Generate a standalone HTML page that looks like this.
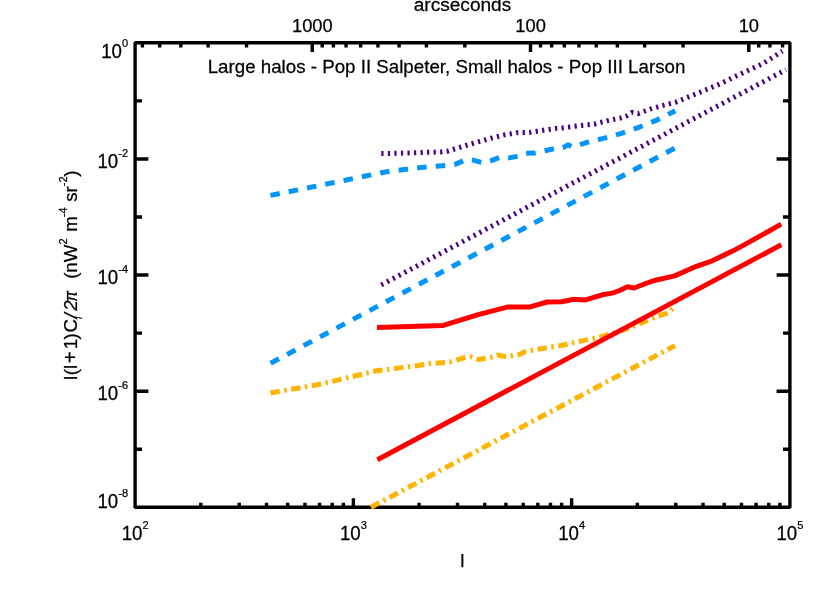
<!DOCTYPE html>
<html><head><meta charset="utf-8"><title>power spectrum</title>
<style>html,body{margin:0;padding:0;background:#fff;overflow:hidden;}svg{display:block;}text{font-family:"Liberation Sans", sans-serif;fill:#000;stroke:#000;stroke-width:0.25px;}</style>
</head><body>
<svg width="830" height="593" viewBox="0 0 830 593">
<rect x="0" y="0" width="830" height="593" fill="#fff"/>
<g stroke="#000" fill="none" stroke-linecap="butt">
<path d="M134.50 507.30H790.50M134.50 42.80H790.50M135.10 42.20V507.90M789.90 42.20V507.90" stroke-width="3.40"/>
<path d="M200.80 507.30V502.70M239.24 507.30V502.70M266.51 507.30V502.70M287.66 507.30V502.70M304.94 507.30V502.70M319.56 507.30V502.70M332.21 507.30V502.70M343.38 507.30V502.70M353.37 507.30V498.20M419.07 507.30V502.70M457.51 507.30V502.70M484.78 507.30V502.70M505.93 507.30V502.70M523.21 507.30V502.70M537.82 507.30V502.70M550.48 507.30V502.70M561.65 507.30V502.70M571.63 507.30V498.20M637.34 507.30V502.70M675.77 507.30V502.70M703.04 507.30V502.70M724.20 507.30V502.70M741.48 507.30V502.70M756.09 507.30V502.70M768.75 507.30V502.70M779.91 507.30V502.70" stroke-width="3.40"/>
<path d="M782.58 42.80V47.40M769.93 42.80V47.40M758.76 42.80V47.40M748.77 42.80V51.90M683.07 42.80V47.40M644.63 42.80V47.40M617.36 42.80V47.40M596.21 42.80V47.40M578.93 42.80V47.40M564.32 42.80V47.40M551.66 42.80V47.40M540.49 42.80V47.40M530.51 42.80V51.90M464.80 42.80V47.40M426.37 42.80V47.40M399.10 42.80V47.40M377.94 42.80V47.40M360.66 42.80V47.40M346.05 42.80V47.40M333.39 42.80V47.40M322.23 42.80V47.40M312.24 42.80V51.90M246.53 42.80V47.40M208.10 42.80V47.40M180.83 42.80V47.40M159.68 42.80V47.40M142.40 42.80V47.40" stroke-width="3.40"/>
<path d="M135.10 100.86H142.00M789.90 100.86H783.00M135.10 158.93H148.40M789.90 158.93H776.60M135.10 216.99H142.00M789.90 216.99H783.00M135.10 275.05H148.40M789.90 275.05H776.60M135.10 333.11H142.00M789.90 333.11H783.00M135.10 391.18H148.40M789.90 391.18H776.60M135.10 449.24H142.00M789.90 449.24H783.00" stroke-width="3.40"/>
</g>
<g fill="none" stroke-width="5.00" stroke-linecap="butt" stroke-linejoin="round">
<polyline points="270.4,393.0 322.3,383.8 375.3,371.0 418.7,365.4 430.0,363.6 449.7,362.1 464.9,357.5 471.0,356.8 478.6,359.5 490.7,357.5 497.5,355.0 505.9,356.6 519.5,354.5 525.6,351.5 546.8,347.7 562.5,345.2 574.6,342.3 598.7,337.5 630.0,327.8 657.1,316.4 668.0,313.0 672.6,308.7" stroke="#FFB400" stroke-dasharray="9.55 4.45 2.5 4.5"/>
<polyline points="370.9,507.3 674.9,345.6" stroke="#FFB400" stroke-dasharray="9.55 4.45 2.5 4.5"/>
<polyline points="270.4,195.4 300.0,189.5 346.4,180.0 385.0,172.0 418.7,167.7 442.5,165.7 454.5,164.6 463.1,160.9 468.0,159.6 472.1,159.9 481.2,162.3 484.0,162.7 490.6,160.9 499.3,157.6 508.7,157.9 518.1,156.3 526.0,153.3 535.4,153.0 544.8,150.8 554.2,148.7 558.0,148.2 563.0,147.7 568.0,144.8 572.5,147.0 585.6,142.8 603.4,138.4 621.4,133.4 638.8,127.3 656.1,120.4 672.0,112.4 675.3,110.7" stroke="#0096FD" stroke-dasharray="9.5 9.17"/>
<polyline points="270.6,363.2 674.7,148.2" stroke="#0096FD" stroke-dasharray="9.5 9.17"/>
<polyline points="381.3,153.6 400.0,153.2 420.0,152.6 440.7,151.9 447.0,151.3 454.5,149.0 472.5,143.5 491.3,138.2 504.3,134.9 516.6,132.8 529.6,132.4 543.4,130.2 555.7,128.4 562.2,127.9 581.7,125.4 594.7,124.0 607.7,120.6 620.0,118.2 626.5,116.0 631.9,112.4 638.1,113.6 651.1,108.8 664.1,105.2 676.4,102.0 688.6,96.8 700.0,92.3 718.7,84.4 735.0,76.6 750.0,69.6 759.3,65.4 765.0,62.2 770.4,58.8 775.8,55.4 782.4,51.1" stroke="#4B0082" stroke-dasharray="2.24 4.30"/>
<polyline points="381.3,284.9 785.9,69.7" stroke="#4B0082" stroke-dasharray="2.24 4.30"/>
<polyline points="377.0,327.4 410.0,326.5 443.3,325.4 478.2,314.6 508.3,306.9 530.0,306.9 547.2,302.0 561.7,301.8 574.0,299.3 585.5,299.9 602.2,294.8 612.3,293.1 619.5,290.5 627.5,286.8 634.0,288.0 647.0,283.0 655.4,280.2 674.7,275.9 696.4,266.3 710.8,261.4 732.5,251.1 744.6,244.6 768.7,231.3 781.2,224.1" stroke="#FF0000"/>
<polyline points="377.4,459.7 781.3,244.8" stroke="#FF0000"/>
</g>
<filter id="noop" filterUnits="userSpaceOnUse" x="0" y="0" width="830" height="593"><feOffset dx="0" dy="0"/></filter>
<g filter="url(#noop)">
<text transform="translate(121.94 57.90) scale(1.0000 1.0450)" font-size="18.70" text-anchor="end">10</text>
<text transform="translate(121.94 46.70) scale(0.9550 0.9200)" font-size="11.60" text-anchor="start">0</text>
<text transform="translate(118.25 167.73) scale(1.0000 1.0450)" font-size="18.70" text-anchor="end">10</text>
<text transform="translate(118.25 156.53) scale(0.9550 0.9200)" font-size="11.60" text-anchor="start">-2</text>
<text transform="translate(118.25 283.85) scale(1.0000 1.0450)" font-size="18.70" text-anchor="end">10</text>
<text transform="translate(118.25 272.65) scale(0.9550 0.9200)" font-size="11.60" text-anchor="start">-4</text>
<text transform="translate(118.25 399.98) scale(1.0000 1.0450)" font-size="18.70" text-anchor="end">10</text>
<text transform="translate(118.25 388.78) scale(0.9550 0.9200)" font-size="11.60" text-anchor="start">-6</text>
<text transform="translate(118.25 507.90) scale(1.0000 1.0450)" font-size="18.70" text-anchor="end">10</text>
<text transform="translate(118.25 496.70) scale(0.9550 0.9200)" font-size="11.60" text-anchor="start">-8</text>
<text transform="translate(142.42 539.70) scale(1.0000 1.0450)" font-size="18.70" text-anchor="end">10</text>
<text transform="translate(142.42 528.50) scale(0.9550 0.9200)" font-size="11.60" text-anchor="start">2</text>
<text transform="translate(360.69 539.70) scale(1.0000 1.0450)" font-size="18.70" text-anchor="end">10</text>
<text transform="translate(360.69 528.50) scale(0.9550 0.9200)" font-size="11.60" text-anchor="start">3</text>
<text transform="translate(578.95 539.70) scale(1.0000 1.0450)" font-size="18.70" text-anchor="end">10</text>
<text transform="translate(578.95 528.50) scale(0.9550 0.9200)" font-size="11.60" text-anchor="start">4</text>
<text transform="translate(797.22 539.70) scale(1.0000 1.0450)" font-size="18.70" text-anchor="end">10</text>
<text transform="translate(797.22 528.50) scale(0.9550 0.9200)" font-size="11.60" text-anchor="start">5</text>
<text transform="translate(312.34 32.10)" font-size="18.30" text-anchor="middle">1000</text>
<text transform="translate(530.61 32.10)" font-size="18.30" text-anchor="middle">100</text>
<text transform="translate(748.87 32.10)" font-size="18.30" text-anchor="middle">10</text>
<text transform="translate(462.50 10.90) scale(1.0200 1.0000)" font-size="18.70" text-anchor="middle">arcseconds</text>
<text transform="translate(462.30 567.00)" font-size="18.70" text-anchor="middle">l</text>
<text transform="translate(207.70 72.80) scale(1.0020 1.0200)" font-size="18.70" text-anchor="start">Large halos - Pop II Salpeter, Small halos - Pop III Larson</text>
<text transform="translate(77.00 380.00) rotate(-90)" font-size="18.70" text-anchor="start">l</text>
<text transform="translate(77.00 375.15) rotate(-90)" font-size="18.70" text-anchor="start">(l</text>
<text transform="translate(77.00 363.26) rotate(-90)" font-size="20.57" text-anchor="start">+</text>
<text transform="translate(77.00 349.24) rotate(-90)" font-size="18.70" text-anchor="start">1</text>
<text transform="translate(77.00 339.54) rotate(-90)" font-size="18.70" text-anchor="start">)</text>
<text transform="translate(77.00 332.42) rotate(-90)" font-size="18.70" text-anchor="start">C</text>
<text transform="translate(81.90 318.91) rotate(-90) scale(0.9550 0.9200)" font-size="9.86" text-anchor="start" font-style="italic">l</text>
<text transform="translate(77.00 318.15) rotate(-90)" font-size="18.70" text-anchor="start" font-style="italic">/</text>
<text transform="translate(77.00 310.65) rotate(-90)" font-size="18.70" text-anchor="start" font-style="italic">2</text>
<text transform="translate(77.00 301.65) rotate(-90) scale(0.8600 1.0000)" font-size="18.70" text-anchor="start" font-style="italic">π</text>
<text transform="translate(77.00 278.86) rotate(-90)" font-size="18.70" text-anchor="start">(nW</text>
<text transform="translate(66.60 244.58) rotate(-90) scale(0.9550 0.9200)" font-size="11.60" text-anchor="start">2</text>
<text transform="translate(77.00 231.72) rotate(-90)" font-size="18.70" text-anchor="start">m</text>
<text transform="translate(66.60 217.14) rotate(-90) scale(0.9550 0.9200)" font-size="11.60" text-anchor="start">-4</text>
<text transform="translate(77.00 201.79) rotate(-90)" font-size="18.70" text-anchor="start">sr</text>
<text transform="translate(66.60 186.22) rotate(-90) scale(0.9550 0.9200)" font-size="11.60" text-anchor="start">-2</text>
<text transform="translate(77.00 176.67) rotate(-90)" font-size="18.70" text-anchor="start">)</text>
</g>
</svg>
</body></html>
